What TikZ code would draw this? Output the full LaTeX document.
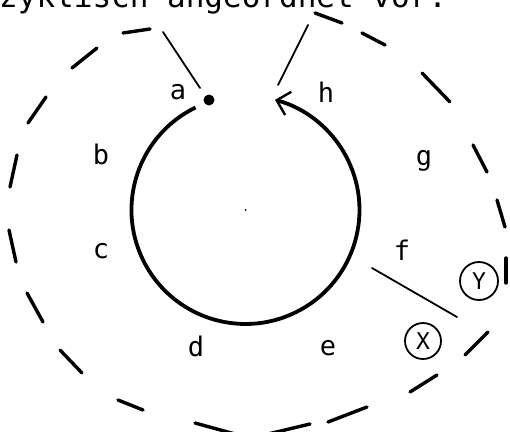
\documentclass[tikz,border=0pt]{standalone}
\usepackage{fontspec}
\newfontfamily\monofont{DejaVu Sans Mono}
\usetikzlibrary{arrows.meta}
\begin{document}
\begin{tikzpicture}[x=1pt,y=-1pt,
  lbl/.style={font=\monofont\fontsize{27}{27}\selectfont, inner sep=0pt},
  dsh/.style={line width=3.4pt, line cap=round},
  conn/.style={line width=1.8pt, line cap=round},
  ring/.style={circle, draw, line width=1.8pt, inner sep=0pt, font=\monofont\fontsize{23}{23}\selectfont},
  mainarc/.style={line width=3.8pt, -{Straight Barb[length=12pt,width=24pt,line width=2.4pt]}}]
\useasboundingbox (0,0) rectangle (510,431);
\clip (0,0) rectangle (510,431);
% header (cut off at top)
\node[anchor=base west, inner sep=0pt, font=\monofont\fontsize{31}{31}\selectfont] (hdr) at (-1,8) {zyklisch angeordnet vor.};
% outer dashed ring
\foreach \ax/\ay/\bx/\by in {97/48/72/68, 123/33/150/29, 315/13/342/23, 362/33/385/45,
  422/73/450/102, 473/145/487/172, 497/200/505/227, 506/258/506/283,
  488/332/465/355, 437/375/410/392, 367/407/328/422, 310/424/268/434,
  235/434/195/423, 143/410/118/400, 82/373/60/350, 43/322/27/293,
  16/262/9/230, 10/187/17/155, 28/123/46/97}
  \draw[dsh] (\ax,\ay) -- (\bx,\by);
% inner cycle
\coordinate (ctr) at (245.5,210);
\node (cdot) [circle, fill, minimum size=2pt, inner sep=0pt] at (ctr) {};
\draw[mainarc] (195.5,107.5) arc[start angle=244, end angle=-75, radius=114];
\node (dot) [circle, fill, minimum size=11pt, inner sep=0pt] at (209,100) {};
% labels
\node[lbl] (la) at (178,92) {a};
\node[lbl] (lb) at (101,154) {b};
\node[lbl] (lc) at (101,251) {c};
\node[lbl] (ld) at (196,346) {d};
\node[lbl] (le) at (328,348) {e};
\node[lbl] (lf) at (402,250) {f};
\node[lbl] (lg) at (424,161) {g};
\node[lbl] (lh) at (326,92) {h};
% X and Y
\node[ring, minimum size=38pt] (Y) at (479,281) {Y};
\node[ring, minimum size=36pt] (X) at (423,341) {X};
% connectors
\coordinate (a1) at (163,32); \coordinate (a2) at (200,88);
\coordinate (h1) at (308,25); \coordinate (h2) at (278,85);
\coordinate (f1) at (372,268); \coordinate (f2) at (457,317);
\draw[conn] (a1) -- (a2);
\draw[conn] (h1) -- (h2);
\draw[conn] (f1) -- (f2);
\end{tikzpicture}
\end{document}
